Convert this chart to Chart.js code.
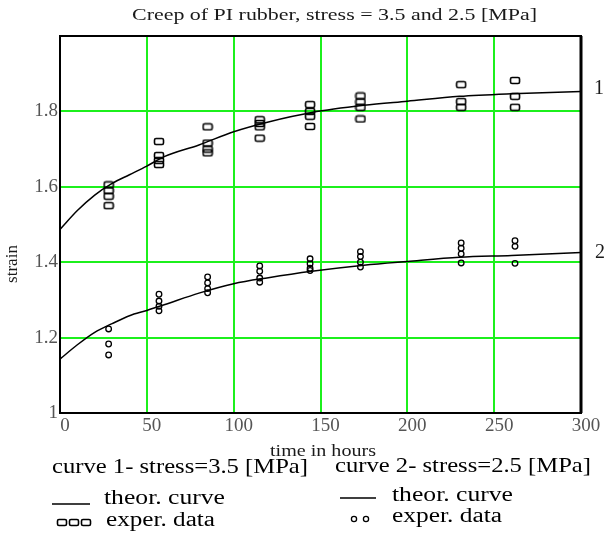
<!DOCTYPE html>
<html>
<head>
<meta charset="utf-8">
<script src="https://cdn.jsdelivr.net/npm/chart.js@4.4.0/dist/chart.umd.min.js"></script>
<style>
  html, body { margin: 0; padding: 0; background: #fff; }
</style>
</head>
<body>
<canvas id="chart" width="606" height="537"></canvas>
<script>
// time of the experimental readings (hours)
var expTimes = [28, 57, 85, 115, 144, 173, 231, 262];
// curve 1, stress 3.5 MPa - readings at each time
var exp1Strain = [
  [1.605, 1.59, 1.575, 1.55],
  [1.72, 1.683, 1.67, 1.659],
  [1.759, 1.716, 1.70, 1.69],
  [1.778, 1.768, 1.759, 1.729],
  [1.818, 1.80, 1.787, 1.76],
  [1.841, 1.825, 1.811, 1.78],
  [1.871, 1.826, 1.811],
  [1.882, 1.84, 1.811]
];
// curve 2, stress 2.5 MPa
var exp2Strain = [
  [1.223, 1.183, 1.154],
  [1.315, 1.297, 1.283, 1.271],
  [1.361, 1.345, 1.330, 1.319],
  [1.390, 1.376, 1.358, 1.347],
  [1.409, 1.396, 1.384, 1.378],
  [1.428, 1.415, 1.400, 1.387],
  [1.451, 1.437, 1.422, 1.398],
  [1.457, 1.442, 1.397]
];
// theoretical curves
var theorTimes = [0, 10, 20, 30, 40, 50, 60, 80, 100, 120, 145, 175, 200, 230, 260, 300];
var theor1 = [1.487, 1.537, 1.578, 1.609, 1.632, 1.655, 1.680, 1.711, 1.746, 1.772, 1.797, 1.816, 1.827, 1.840, 1.847, 1.853];
var theor2 = [1.143, 1.181, 1.214, 1.237, 1.258, 1.272, 1.287, 1.318, 1.343, 1.359, 1.376, 1.392, 1.402, 1.413, 1.418, 1.426];

var xTicks = [0, 50, 100, 150, 200, 250, 300];
var yTicks = [1, 1.2, 1.4, 1.6, 1.8];

var SERIF = '"Liberation Serif", "DejaVu Serif", serif';

function toPoints(xs, ys) {
  return xs.map(function (x, i) { return { x: x, y: ys[i] }; });
}
function groupPoints(times, groups) {
  var out = [];
  groups.forEach(function (g, i) {
    g.forEach(function (v) { out.push({ x: times[i], y: v }); });
  });
  return out;
}

// text drawn at a given height and stretched to the width seen in the picture
function fitText(ctx, text, x, y, size, width) {
  ctx.font = size + 'px ' + SERIF;
  var w = ctx.measureText(text).width;
  ctx.save();
  ctx.translate(x, y);
  ctx.scale(width / w, 1);
  ctx.textAlign = 'left';
  ctx.fillText(text, 0, 0);
  ctx.restore();
}

// little rounded box used for curve 1 readings
var boxMark = document.createElement('canvas');
boxMark.width = 12; boxMark.height = 9;
(function () {
  var c = boxMark.getContext('2d');
  c.strokeStyle = '#000';
  c.lineWidth = 1.6;
  c.beginPath();
  c.roundRect(1.5, 1.5, 9, 6, 1.5);
  c.stroke();
})();

var frame = {
  id: 'frame',
  beforeDatasetsDraw: function (chart) {
    var a = chart.chartArea, ctx = chart.ctx;
    ctx.save();
    ctx.strokeStyle = '#000';
    ctx.lineWidth = 2;
    ctx.strokeRect(a.left, a.top, a.right - a.left, a.bottom - a.top);
    ctx.lineWidth = 3;
    ctx.beginPath();
    ctx.moveTo(a.right, a.top);
    ctx.lineTo(a.right, a.bottom);
    ctx.stroke();
    ctx.restore();
  }
};

var texts = {
  id: 'texts',
  afterDraw: function (chart) {
    var ctx = chart.ctx, a = chart.chartArea, ys = chart.scales.y;
    ctx.save();
    ctx.fillStyle = '#1a1a1a';
    ctx.textBaseline = 'middle';

    fitText(ctx, 'Creep of PI rubber, stress = 3.5 and 2.5 [MPa]', 132, 16, 17, 405);
    fitText(ctx, 'time in hours', 270, 452, 17, 106);

    ctx.save();
    ctx.translate(13, 264);
    ctx.rotate(-Math.PI / 2);
    ctx.font = '17px ' + SERIF;
    ctx.textAlign = 'center';
    ctx.fillText('strain', 0, 0);
    ctx.restore();

    // curve numbers at the right end
    ctx.font = '20px ' + SERIF;
    ctx.textAlign = 'left';
    ctx.fillText('1', a.right + 13, ys.getPixelForValue(theor1[theor1.length - 1]) - 3);
    ctx.fillText('2', a.right + 14, ys.getPixelForValue(theor2[theor2.length - 1]));

    // legend
    ctx.fillStyle = '#000';
    fitText(ctx, 'curve 1- stress=3.5 [MPa]', 52, 467, 21, 256);
    fitText(ctx, 'curve 2- stress=2.5 [MPa]', 335, 466, 21, 256);
    fitText(ctx, 'theor. curve', 104, 499, 20, 121);
    fitText(ctx, 'exper. data', 106, 521, 20, 109);
    fitText(ctx, 'theor. curve', 392, 496, 20, 121);
    fitText(ctx, 'exper. data', 392, 517, 20, 110);

    ctx.strokeStyle = '#000';
    ctx.lineWidth = 1.5;
    ctx.beginPath();
    ctx.moveTo(52, 504); ctx.lineTo(90, 504);
    ctx.moveTo(340, 498); ctx.lineTo(376, 498);
    ctx.stroke();
    for (var i = 0; i < 3; i++) ctx.drawImage(boxMark, 56 + i * 12, 518);
    ctx.lineWidth = 1.3;
    [354, 366].forEach(function (cx) {
      ctx.beginPath();
      ctx.arc(cx, 519, 2.6, 0, Math.PI * 2);
      ctx.stroke();
    });
    ctx.restore();
  }
};

function gridColor(edges) {
  return function (c) {
    return edges.indexOf(c.tick.value) >= 0 ? 'rgba(0,0,0,0)' : '#1cf01c';
  };
}

new Chart(document.getElementById('chart').getContext('2d'), {
  type: 'scatter',
  data: {
    datasets: [
      {
        data: toPoints(theorTimes, theor1),
        showLine: true, pointRadius: 0, borderColor: '#000', borderWidth: 1.5,
        cubicInterpolationMode: 'monotone'
      },
      {
        data: toPoints(theorTimes, theor2),
        showLine: true, pointRadius: 0, borderColor: '#000', borderWidth: 1.5,
        cubicInterpolationMode: 'monotone'
      },
      {
        data: groupPoints(expTimes, exp1Strain),
        pointStyle: boxMark, pointRadius: 5
      },
      {
        data: groupPoints(expTimes, exp2Strain),
        pointStyle: 'circle', pointRadius: 2.8, borderWidth: 1.3,
        borderColor: '#000', backgroundColor: 'rgba(0,0,0,0)'
      }
    ]
  },
  options: {
    responsive: false,
    animation: false,
    devicePixelRatio: 1,
    layout: { padding: { top: 36, right: 25, left: 0, bottom: 0 } },
    plugins: { legend: { display: false }, tooltip: { enabled: false } },
    scales: {
      x: {
        type: 'linear', min: 0, max: 300,
        afterFit: function (s) { s.height = 124; },
        afterBuildTicks: function (s) { s.ticks = xTicks.map(function (v) { return { value: v }; }); },
        ticks: { color: '#555', font: { family: SERIF, size: 19 }, padding: 2, labelOffset: 5, maxRotation: 0 },
        grid: { color: gridColor([0, 300]), lineWidth: 2, drawTicks: false },
        border: { display: false }
      },
      y: {
        min: 1, max: 2,
        afterFit: function (s) { s.width = 60; },
        afterBuildTicks: function (s) { s.ticks = yTicks.map(function (v) { return { value: v }; }); },
        ticks: {
          color: '#555', font: { family: SERIF, size: 19 }, padding: 2,
          callback: function (v) { return String(Number(v.toFixed(1))); }
        },
        grid: { color: gridColor([1]), lineWidth: 2, drawTicks: false },
        border: { display: false }
      }
    }
  },
  plugins: [frame, texts]
});
</script>
</body>
</html>
